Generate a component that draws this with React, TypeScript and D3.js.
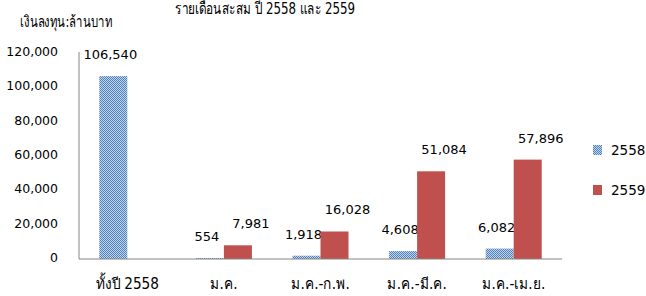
import React from 'react';
import * as d3 from 'd3';

const categories = ['ทั้งปี 2558', 'ม.ค.', 'ม.ค.-ก.พ.', 'ม.ค.-มี.ค.', 'ม.ค.-เม.ย.'];
const series = ['2558', '2559'];
const values2558 = [106540, 554, 1918, 4608, 6082];
const values2559 = [null, 7981, 16028, 51084, 57896];
const yTicks = [0, 20000, 40000, 60000, 80000, 100000, 120000];

const font = "Tahoma, 'DejaVu Sans', sans-serif";

export default function App() {
  const width = 646, height = 296;
  const margin = { top: 53, left: 79, right: 84, bottom: 37 };
  const h = height - margin.bottom;

  const x = d3.scaleBand<string>()
    .domain(categories)
    .range([margin.left, width - margin.right])
    .paddingInner(0.42)
    .paddingOuter(0.21);

  const sub = d3.scaleBand<string>()
    .domain(series)
    .range([0, x.bandwidth()]);

  const y = d3.scaleLinear()
    .domain([0, 120000])
    .range([h, margin.top]);

  const fmt = d3.format(',');
  const colors = ['url(#dots)', '#c0504d'];
  const labelShift = [-3, 13];
  const data = [values2558, values2559];

  return (
    <svg width={width} height={height} style={{ position: 'absolute', left: 0, top: 0 }}>
      <defs>
        <pattern id="dots" width="2" height="2" patternUnits="userSpaceOnUse">
          <rect width="2" height="2" fill="#c3d3ea" />
          <rect width="1" height="1" fill="#4f81bd" />
          <rect x="1" y="1" width="1" height="1" fill="#4f81bd" />
        </pattern>
      </defs>

      <text x={175} y={14} textLength={180} lengthAdjust="spacingAndGlyphs"
        fontFamily={font} fontSize={16} fill="#000">
        รายเดือนสะสม ปี 2558 และ 2559
      </text>
      <text x={20} y={27} textLength={92} lengthAdjust="spacingAndGlyphs"
        fontFamily={font} fontSize={15.5} fill="#000">
        เงินลงทุน:ล้านบาท
      </text>

      {yTicks.map(t => (
        <text key={t} x={58} y={y(t) + 3} textAnchor="end"
          fontFamily={font} fontSize={12.5} fill="#000">
          {fmt(t)}
        </text>
      ))}

      {data.map((vals, si) =>
        vals.map((v, ci) => {
          if (v == null) return null;
          const bx = (x(categories[ci]) as number) + (sub(series[si]) as number);
          const bw = sub.bandwidth();
          return (
            <g key={si + '-' + ci}>
              <rect x={bx} y={y(v)} width={bw} height={h - y(v)} fill={colors[si]} />
              <text x={bx + bw / 2 + labelShift[si]} y={y(v) - 17} textAnchor="middle"
                fontFamily={font} fontSize={13} fill="#000">
                {fmt(v)}
              </text>
            </g>
          );
        })
      )}

      <line x1={margin.left} x2={margin.left} y1={margin.top - 1} y2={h} stroke="#868686" />
      <line x1={margin.left} x2={width - margin.right} y1={h} y2={h} stroke="#868686" />

      {categories.map(c => (
        <text key={c} transform={`translate(${(x(c) as number) + x.bandwidth() / 2},289) scale(0.88,1)`}
          textAnchor="middle" fontFamily={font} fontSize={15.5} fill="#000">
          {c}
        </text>
      ))}

      {series.map((s, i) => (
        <g key={s}>
          <rect x={593} y={145 + i * 40} width={9} height={10} fill={colors[i]} />
          <text x={611} y={155 + i * 40} fontFamily={font} fontSize={13.5} fill="#000">{s}</text>
        </g>
      ))}
    </svg>
  );
}
